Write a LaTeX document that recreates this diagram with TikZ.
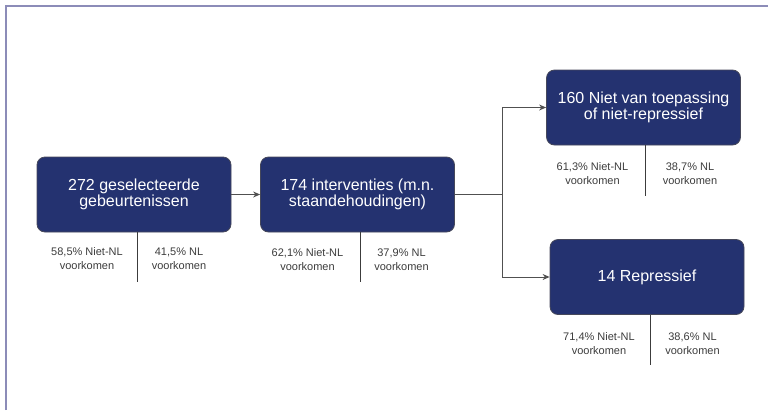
\documentclass[tikz,border=0pt]{standalone}
\usepackage{fontspec}
\setmainfont{Liberation Sans}
\usetikzlibrary{arrows.meta}
\definecolor{navy}{RGB}{36,50,112}
\definecolor{boxedge}{RGB}{70,72,90}
\definecolor{frame}{RGB}{140,140,184}
\definecolor{conn}{RGB}{80,80,80}
\definecolor{lbl}{RGB}{60,60,60}
\begin{document}
\begin{tikzpicture}[x=1pt,y=-1pt,
  flowbox/.style={draw=boxedge,line width=0.8pt,fill=navy,rounded corners=8pt,
    minimum width=194pt,minimum height=75pt,text=white,align=center,
    font=\fontsize{16}{12.5}\selectfont,inner sep=0pt},
  share/.style={text=lbl,align=center,font=\fontsize{11}{14}\selectfont,inner sep=0pt},
  splitline/.style={draw=lbl,line width=0.8pt},
  conline/.style={draw=conn,line width=1pt},
  arr/.style={conline,-{Stealth[length=7pt,width=6pt]}}]
\useasboundingbox (0,0) rectangle (768,410);
\draw[frame,line width=1.8pt] (6,410) -- (6,6) -- (768,6);
% boxes
\node[flowbox] (b1) at (134,194.5) {272 geselecteerde\\gebeurtenissen};
\node[flowbox] (b2) at (357.5,194.5) {174 interventies (m.n.\\staandehoudingen)};
\node[flowbox] (b3) at (643.5,107.5) {160 Niet van toepassing\\of niet-repressief};
\node[flowbox] (b4) at (647,277) {14 Repressief};
% connectors
\coordinate (j) at (502,194.5);
\draw[arr] (b1.east) -- (b2.west);
\draw[conline] (b2.east) -- (j);
\draw[arr] (j) |- (b3.west);
\draw[arr] (j) |- (b4.west);
% split lines and labels
\coordinate (s1) at (137,282);
\draw[splitline] (b1.south -| s1) -- (s1);
\node[share] (l1a) at (87,258.5) {58,5\% Niet-NL\\voorkomen};
\node[share] (l1b) at (179,258.5) {41,5\% NL\\voorkomen};
\coordinate (s2) at (360,282);
\draw[splitline] (b2.south -| s2) -- (s2);
\node[share] (l2a) at (307.5,259.5) {62,1\% Niet-NL\\voorkomen};
\node[share] (l2b) at (401.5,259.5) {37,9\% NL\\voorkomen};
\coordinate (s3) at (645.5,196);
\draw[splitline] (b3.south -| s3) -- (s3);
\node[share] (l3a) at (592.5,174) {61,3\% Niet-NL\\voorkomen};
\node[share] (l3b) at (690,174) {38,7\% NL\\voorkomen};
\coordinate (s4) at (650,365);
\draw[splitline] (b4.south -| s4) -- (s4);
\node[share] (l4a) at (599,343.5) {71,4\% Niet-NL\\voorkomen};
\node[share] (l4b) at (692.5,343.5) {38,6\% NL\\voorkomen};
\end{tikzpicture}
\end{document}
